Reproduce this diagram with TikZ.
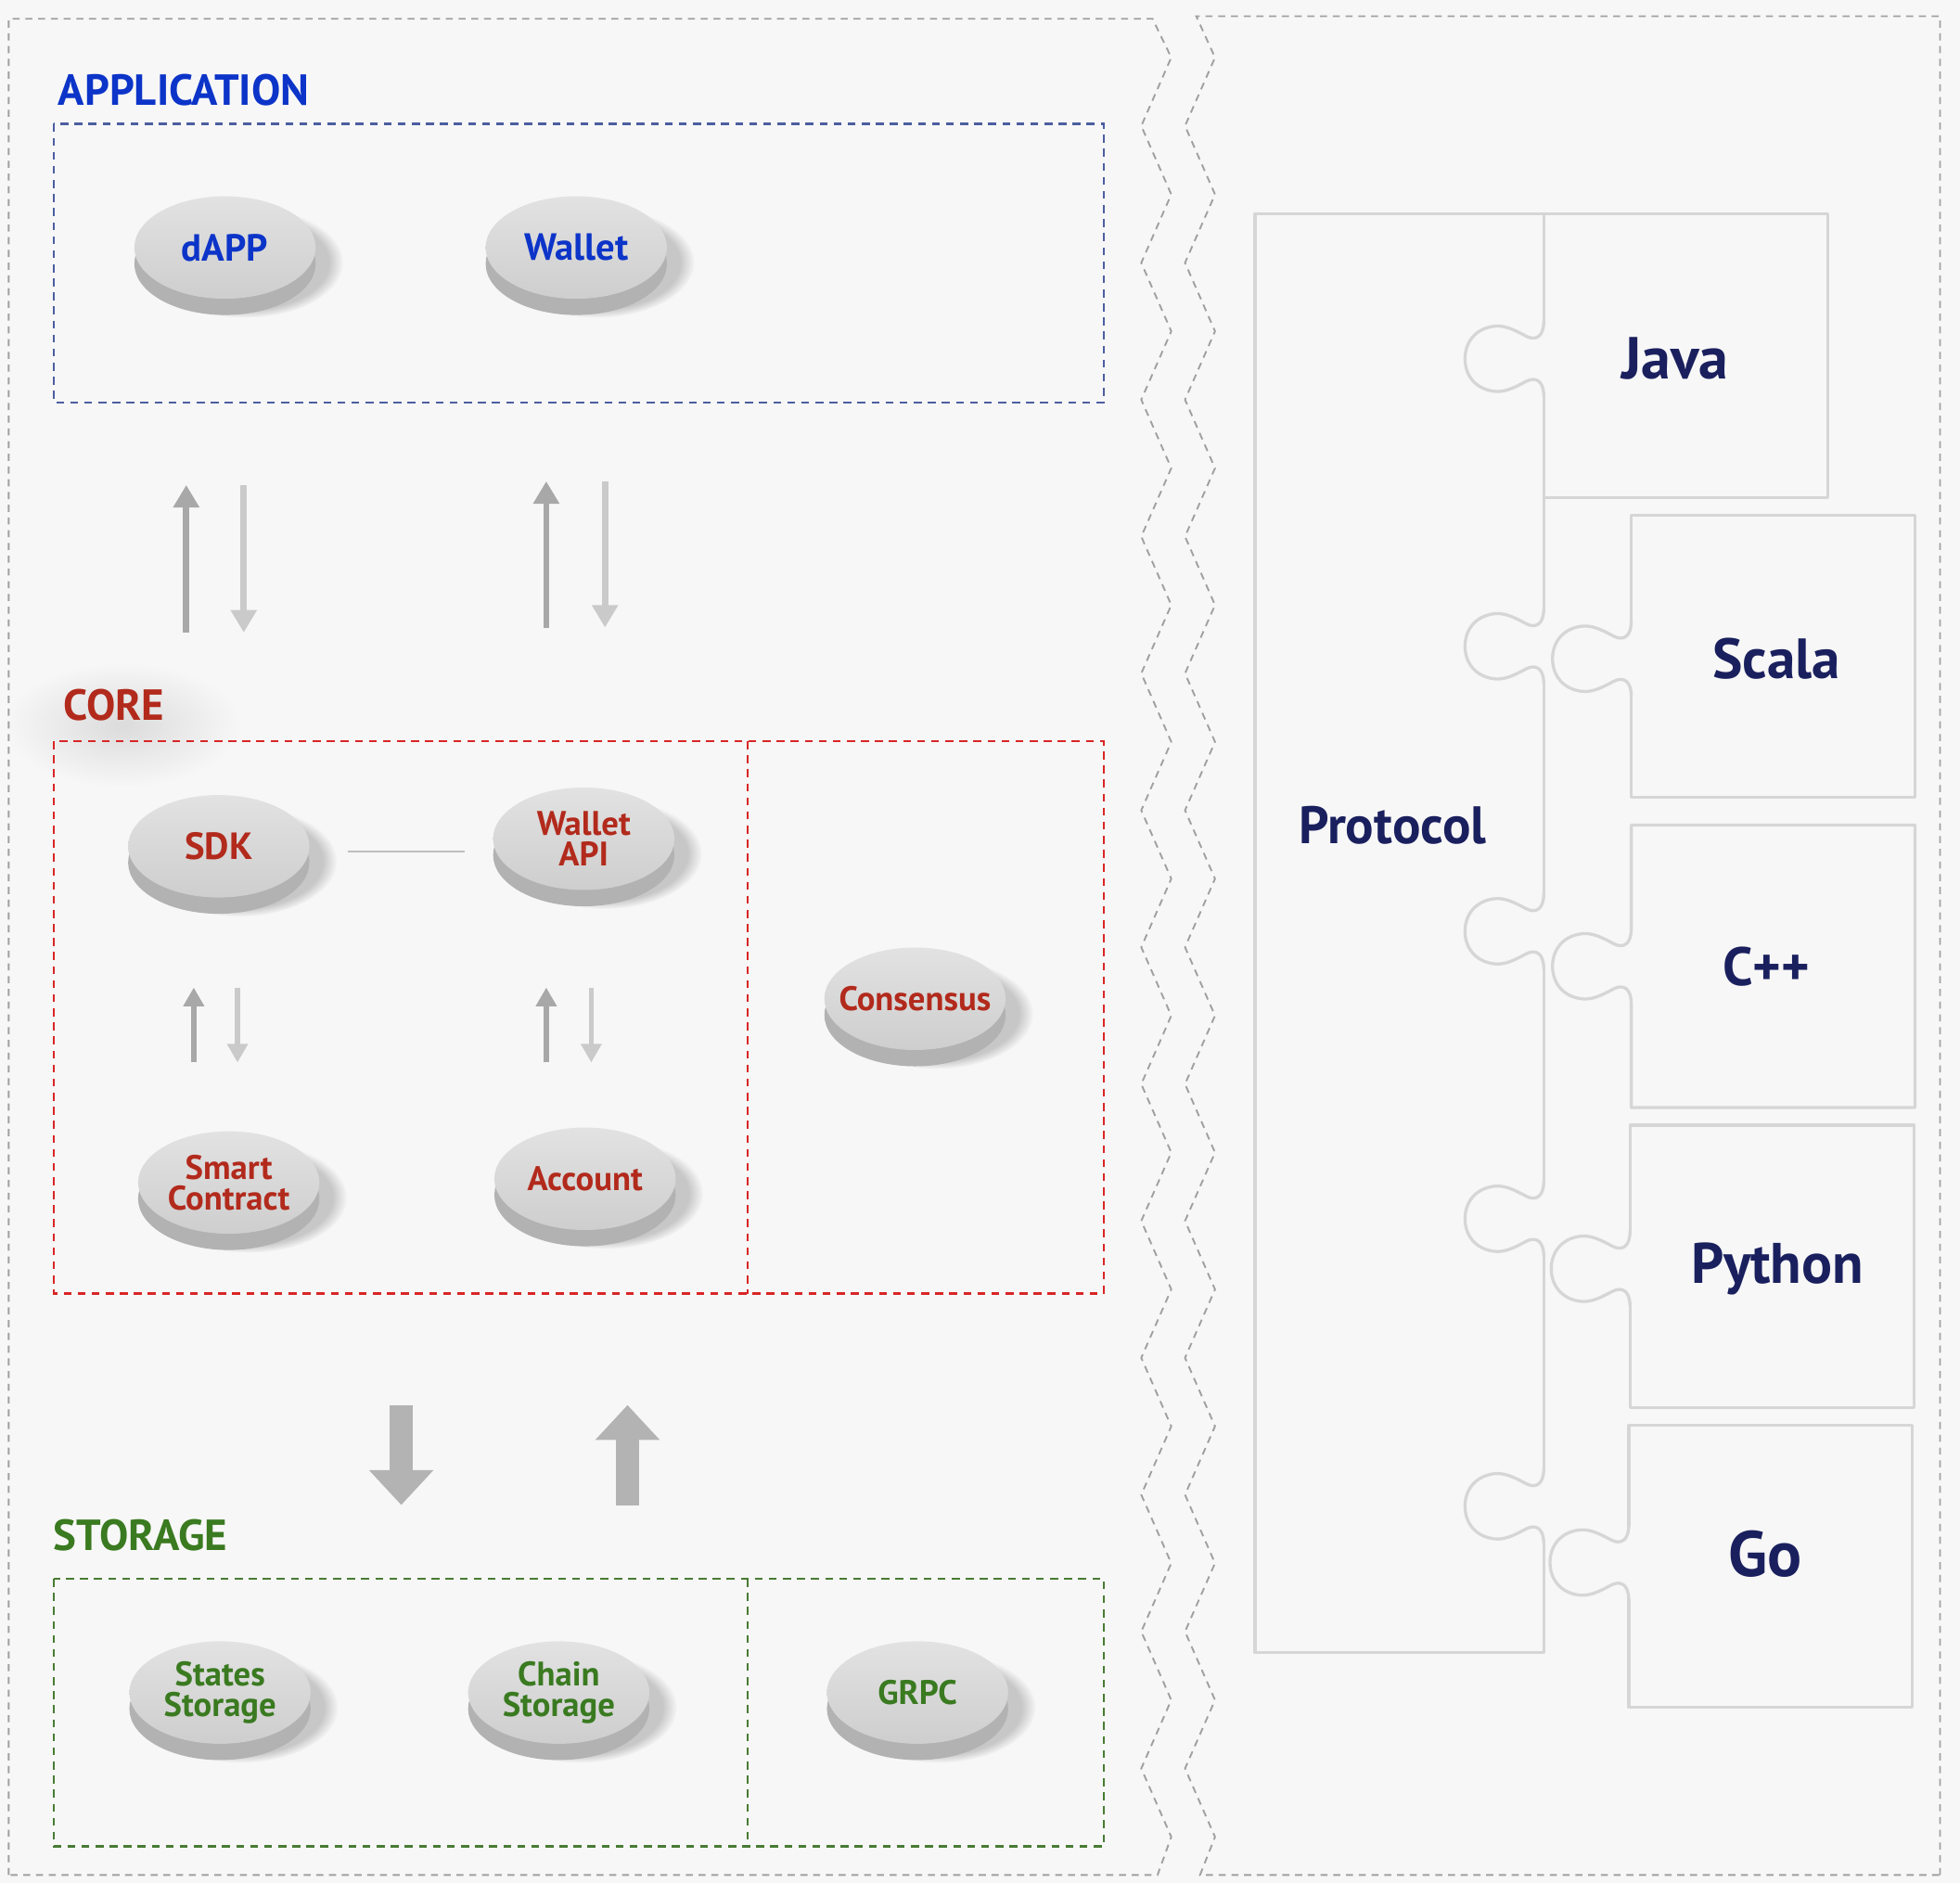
\documentclass[tikz,border=0pt]{standalone}
\usepackage{fontspec}
\setmainfont{PT Sans}
\usetikzlibrary{shapes.geometric,arrows.meta,shadows,fadings}

\definecolor{appblue}{RGB}{12,52,200}
\definecolor{corered}{RGB}{178,42,28}
\definecolor{storegreen}{RGB}{58,122,32}
\definecolor{langnavy}{RGB}{26,32,94}
\definecolor{bgwhite}{RGB}{247,247,247}
\definecolor{framegray}{RGB}{160,160,160}
\definecolor{piecegray}{RGB}{214,214,214}
\definecolor{discface}{RGB}{226,226,226}
\definecolor{discfacedark}{RGB}{206,206,206}
\definecolor{discside}{RGB}{178,178,178}
\definecolor{arrowdark}{RGB}{168,168,168}
\definecolor{arrowlight}{RGB}{202,202,202}
\definecolor{arrowbig}{RGB}{179,179,179}

\tikzset{
  panelframe/.style={draw=framegray, line width=0.4pt, dash pattern=on 1.6pt off 1.3pt},
  appbox/.style={draw=appblue!45!gray, line width=0.55pt, dash pattern=on 1.8pt off 1.4pt},
  corebox/.style={draw=red!70!gray, line width=0.55pt, dash pattern=on 1.8pt off 1.4pt},
  storebox/.style={draw=storegreen!80!gray, line width=0.55pt, dash pattern=on 1.8pt off 1.4pt},
  sectionlabel/.style={anchor=west, inner sep=0pt, font=\bfseries\fontsize{9.9}{12}\selectfont},
  langlabel/.style={text=langnavy, font=\bfseries\fontsize{12.3}{14}\selectfont},
  discnode/.style={ellipse, minimum width=1.45cm, minimum height=0.82cm,
    inner xsep=-0.2cm, inner ysep=-0.1cm,
    top color=discface, bottom color=discfacedark, align=center,
    font=\bfseries\fontsize{8.6}{8}\selectfont,
    circular drop shadow={shadow xshift=0.15cm, shadow yshift=-0.11cm, shadow scale=1.08, opacity=0.4},
    general shadow={fill=discside, shadow yshift=-0.13cm}},
  smalldisc/.style={discnode, font=\bfseries\fontsize{7.75}{6.9}\selectfont},
  sdklink/.style={draw=gray!50, line width=0.5pt},
  thinup/.style={draw=arrowdark, line width=0.05cm, -{Triangle[width=0.2cm,length=0.18cm]}},
  thindown/.style={draw=arrowlight, line width=0.05cm, -{Triangle[width=0.2cm,length=0.18cm]}},
  smallup/.style={draw=arrowdark, line width=0.04cm, -{Triangle[width=0.16cm,length=0.15cm]}},
  smalldown/.style={draw=arrowlight, line width=0.04cm, -{Triangle[width=0.16cm,length=0.15cm]}},
  bigarrow/.style={draw=arrowbig, line width=0.18cm, -{Triangle[width=0.5cm,length=0.28cm]}},
  puzzleline/.style={draw=piecegray, line width=0.7pt, line cap=round, line join=round}
}

% puzzle knob on a vertical edge, bulging to the left
\newcommand{\knob}[2]{%
  \draw[puzzleline, shift={(#1,#2)}] (0,0.30) .. controls (0,0.18) and (-0.06,0.14) .. (-0.14,0.18)
    .. controls (-0.25,0.24) and (-0.32,0.27) .. (-0.40,0.26)
    .. controls (-0.55,0.24) and (-0.63,0.13) .. (-0.63,0)
    .. controls (-0.63,-0.13) and (-0.55,-0.24) .. (-0.40,-0.26)
    .. controls (-0.32,-0.27) and (-0.25,-0.24) .. (-0.14,-0.18)
    .. controls (-0.06,-0.14) and (0,-0.18) .. (0,-0.30);}

\begin{document}
\begin{tikzpicture}
\useasboundingbox (0,0) rectangle (15.68,-15.06);
\fill[bgwhite] (0,0) rectangle (15.68,-15.06);

% soft glow under the core title
\shade[inner color=black!14, outer color=bgwhite] (0.98,-5.80) ellipse (0.95 and 0.5);

% left panel with zigzag edge
\draw[panelframe] (0.07,-15.00) -- (0.07,-0.15) -- (9.22,-0.15)
  \foreach \k in {0,...,12} { -- (9.37,{-0.46-1.095*\k}) -- (9.13,{-1.0075-1.095*\k}) }
  -- (9.37,-14.695) -- (9.26,-15.00) -- cycle;

% right panel
\draw[panelframe] (15.52,-15.00) -- (15.52,-0.13) -- (9.57,-0.13)
  \foreach \k in {0,...,12} { -- (9.72,{-0.46-1.095*\k}) -- (9.48,{-1.0075-1.095*\k}) }
  -- (9.72,-14.695) -- (9.60,-15.00) -- cycle;

% layer boxes
\draw[appbox] (0.43,-0.99) rectangle (8.83,-3.22);
\draw[corebox] (0.43,-5.93) rectangle (8.83,-10.35);
\draw[corebox, line width=0.4pt] (5.98,-5.93) -- (5.98,-10.35);
\draw[storebox] (0.43,-12.63) rectangle (8.83,-14.77);
\draw[storebox, line width=0.4pt] (5.98,-12.63) -- (5.98,-14.77);

% layer titles
\node[sectionlabel, text=appblue] (applbl) at (0.46,-0.72) {APPLICATION};
\node[sectionlabel, text=corered] (corelbl) at (0.50,-5.64) {CORE};
\node[sectionlabel, text=storegreen] (storelbl) at (0.42,-12.28) {STORAGE};

% discs
\node[discnode, text=appblue] (dapp) at (1.80,-1.98) {dAPP};
\node[discnode, text=appblue] (wallet) at (4.61,-1.98) {Wallet};
\node[discnode, text=corered] (sdk) at (1.75,-6.77) {SDK};
\node[smalldisc, text=corered] (wapi) at (4.67,-6.71) {Wallet\\API};
\node[smalldisc, text=corered] (smart) at (1.83,-9.46) {Smart\\Contract};
\node[smalldisc, text=corered] (account) at (4.68,-9.43) {Account};
\node[smalldisc, text=corered] (consensus) at (7.32,-7.99) {Consensus};
\node[smalldisc, text=storegreen] (states) at (1.76,-13.54) {States\\Storage};
\node[smalldisc, text=storegreen] (chain) at (4.47,-13.54) {Chain\\Storage};
\node[smalldisc, text=storegreen] (grpc) at (7.34,-13.54) {GRPC};

\draw[sdklink, shorten <=0.3cm, shorten >=0.22cm] ([yshift=-0.04cm]sdk.east) -- ([yshift=-0.04cm]sdk.east -| wapi.west);

% arrows application <-> core
\foreach \xu/\xd/\ya/\yb in {1.49/1.95/3.88/5.06, 4.37/4.84/3.85/5.02}{
  \draw[thinup] (\xu,-\yb) -- (\xu,-\ya);
  \draw[thindown] (\xd,-\ya) -- (\xd,-\yb);
}

% arrows inside core
\foreach \xu/\xd in {1.55/1.90, 4.37/4.73}{
  \draw[smallup] (\xu,-8.50) -- (\xu,-7.90);
  \draw[smalldown] (\xd,-7.90) -- (\xd,-8.50);
}

% core <-> storage
\draw[bigarrow] (3.21,-11.24) -- (3.21,-12.04);
\draw[bigarrow] (5.02,-12.04) -- (5.02,-11.24);

% puzzle: protocol piece
\draw[puzzleline] (12.35,-1.71) -- (10.04,-1.71) -- (10.04,-13.22) -- (12.35,-13.22);
\foreach \ya/\yb in {1.71/2.57, 3.17/4.87, 5.47/7.15, 7.75/9.45, 10.05/11.75, 12.35/13.22}
  \draw[puzzleline] (12.35,-\ya) -- (12.35,-\yb);
\foreach \cy in {2.87,5.17,7.45,9.75,12.05} {\knob{12.35}{-\cy}}

% puzzle: language pieces
\draw[puzzleline] (12.35,-1.71) -- (14.62,-1.71) -- (14.62,-3.98) -- (12.35,-3.98);
\foreach \x/\yt/\cy in {13.05/4.12/5.27, 13.05/6.60/7.73, 13.04/9.00/10.15, 13.03/11.40/12.50}{
  \draw[puzzleline] (\x,-\cy+0.30) -- (\x,-\yt) -- ++(2.27,0) -- ++(0,-2.26) -- (\x,-\yt-2.26) -- (\x,-\cy-0.30);
  \knob{\x}{-\cy}
}

\node[langlabel, font=\bfseries\fontsize{12}{14}\selectfont] (protocol) at (11.14,-6.60) {Protocol};
\node[langlabel, font=\bfseries\fontsize{13.5}{14}\selectfont] (java) at (13.40,-2.87) {Java};
\node[langlabel, font=\bfseries\fontsize{12.9}{14}\selectfont] (scala) at (14.21,-5.27) {Scala};
\node[langlabel] (cpp) at (14.13,-7.73) {C++};
\node[langlabel, font=\bfseries\fontsize{13}{14}\selectfont] (python) at (14.22,-10.15) {Python};
\node[langlabel, font=\bfseries\fontsize{14.6}{16}\selectfont] (go) at (14.12,-12.43) {Go};
\end{tikzpicture}
\end{document}
